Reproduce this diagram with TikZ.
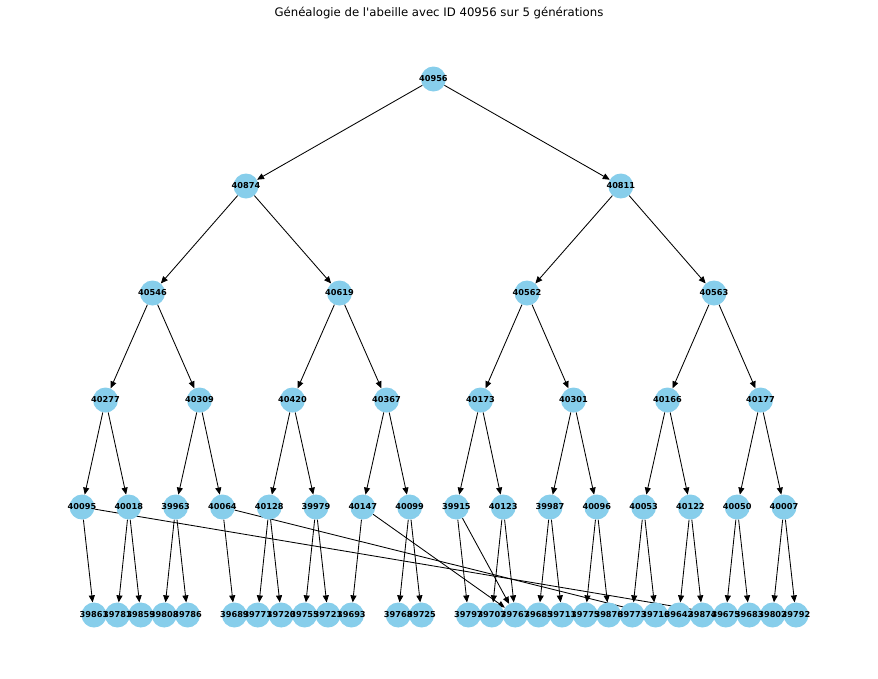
\documentclass[tikz,border=0pt]{standalone}
\usepackage{fontspec}
\setmainfont{DejaVu Sans}
\usepackage{tikz}
\usetikzlibrary{arrows.meta, backgrounds}
\definecolor{beeColor}{HTML}{87CEEB}

\newcommand{\beeNodes}{%
    40956/433.4/79,
    40874/246/186, 40811/620.8/186,
    40546/152.5/293, 40619/339.5/293, 40562/527/293, 40563/714/293,
    40277/105.5/400, 40309/199.5/400, 40420/292.5/400, 40367/386.5/400,
    40173/480.5/400, 40301/573.5/400, 40166/667.5/400, 40177/760.5/400,
    40095/82/507, 40018/128.8/507, 39963/175.6/507, 40064/222.4/507,
    40128/269.2/507, 39979/316/507, 40147/362.8/507, 40099/409.6/507,
    39915/456.4/507, 40123/503.2/507, 39987/550/507, 40096/596.8/507,
    40053/643.6/507, 40122/690.4/507, 40050/737.2/507, 40007/784/507,
    39861/94/615, 39781/117.4/615, 39859/140.8/615, 39808/164.2/615,
    39786/187.6/615, 39689/234.4/615, 39771/257.8/615, 39720/281.2/615,
    39755/304.6/615, 39721/328/615, 39693/351.4/615, 39768/398.2/615,
    39725/421.6/615, 39797/468.4/615, 39707/491.8/615, 39767/515.2/615,
    39685/538.6/615, 39711/562/615, 39775/585.4/615, 39876/608.8/615,
    39773/632.2/615, 39716/655.6/615, 39642/679/615, 39874/702.4/615,
    39675/725.8/615, 39683/749.2/615, 39802/772.6/615, 39792/796/615}

\newcommand{\beeLinks}{%
    40956/40874, 40956/40811,
    40874/40546, 40874/40619, 40811/40562, 40811/40563,
    40546/40277, 40546/40309, 40619/40420, 40619/40367,
    40562/40173, 40562/40301, 40563/40166, 40563/40177,
    40277/40095, 40277/40018, 40309/39963, 40309/40064,
    40420/40128, 40420/39979, 40367/40147, 40367/40099,
    40173/39915, 40173/40123, 40301/39987, 40301/40096,
    40166/40053, 40166/40122, 40177/40050, 40177/40007,
    40095/39861, 40095/39675, 40018/39781, 40018/39859,
    39963/39808, 39963/39786, 40064/39689, 40064/39716,
    40128/39771, 40128/39720, 39979/39755, 39979/39721,
    40147/39693, 40147/39767, 40099/39768, 40099/39725,
    39915/39797, 39915/39767, 40123/39707, 40123/39767,
    39987/39685, 39987/39711, 40096/39775, 40096/39876,
    40053/39773, 40053/39716, 40122/39642, 40122/39874,
    40050/39675, 40050/39683, 40007/39802, 40007/39792}

\begin{document}
\begin{tikzpicture}[x=1pt, y=-1pt,
    bee/.style={circle, fill=beeColor, minimum size=25pt, inner sep=0pt},
    beeLabel/.style={font=\bfseries\fontsize{8.2}{9}\selectfont, inner sep=0pt},
    link/.style={-{Triangle[length=7pt, width=6pt]}, line width=0.85pt}]
    \useasboundingbox (0,0) rectangle (878,678);
    \node[font=\fontsize{11.7}{14}\selectfont] (title) at (439,13)
        {Généalogie de l\textquotesingle abeille avec ID 40956 sur 5 générations};
    \foreach \n/\x/\y in \beeNodes
        \node[bee] (n\n) at (\x,\y) {};
    \foreach \n/\x/\y in \beeNodes
        \node[beeLabel] (t\n) at (n\n) {\n};
    \begin{pgfonlayer}{background}
        \foreach \a/\b in \beeLinks
            \draw[link] (n\a) -- (n\b);
    \end{pgfonlayer}
\end{tikzpicture}
\end{document}
